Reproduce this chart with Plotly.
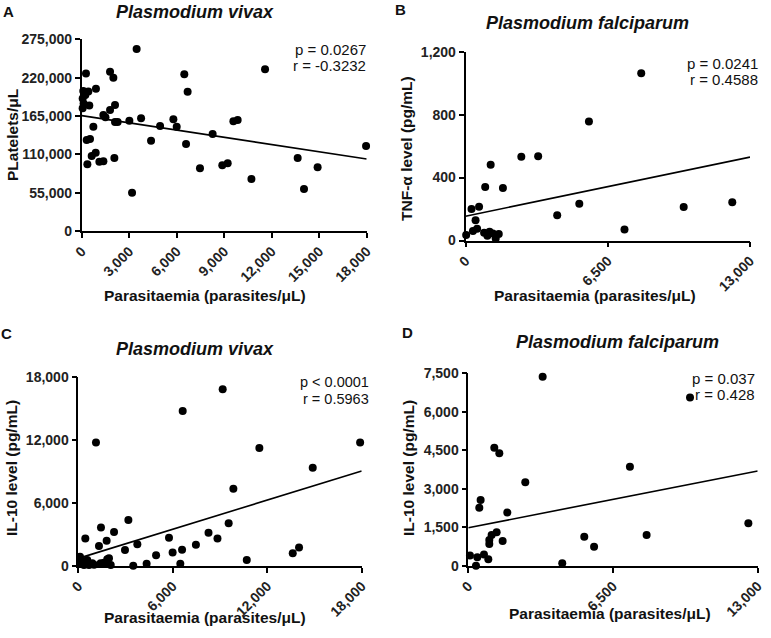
import plotly.graph_objects as go

W, H = 771, 638

# ---------------- Data ----------------
# Panel A: P. vivax parasitaemia vs platelets
a_x = [100, 420, 230, 60, 120, 480, 60, 270, 900, 1790, 2000, 3470, 2105, 1790, 1370, 1500,
       2105, 2270, 3010, 3750, 5790, 6000, 4950, 4380, 6590, 8270, 9580, 9850, 737, 316, 526,
       630, 884, 1116, 1370, 2063, 358, 3180, 7470, 8880, 9220, 10720, 13640, 14040, 14900,
       17960, 6480, 6690, 11580]
a_y = [201000, 200000, 195000, 190000, 183000, 180000, 176000, 226000, 204000, 228600, 220000,
       261000, 180800, 173600, 166400, 163000, 156400, 156400, 158300, 161600, 160200, 149700,
       150600, 129600, 124800, 139200, 157300, 159300, 149700, 130600, 132000, 107600, 112400,
       99500, 100000, 104700, 95600, 55000, 89900, 94200, 97100, 74600, 104700, 60300, 91300,
       122000, 224800, 199900, 231900]
a_fit_x = [0, 18000]
a_fit_y = [165500, 103300]

# Panel B: P. falciparum parasitaemia vs TNF-alpha
b_x = [30, 340, 530, 460, 275, 620, 900, 1710, 1150, 2550, 3320, 4190, 5200, 5640, 7265, 8030,
       9970, 12190, 850, 1000, 1100, 1250, 1380, 1520]
b_y = [35, 60, 75, 128, 200, 215, 340, 333, 482, 532, 535, 161, 234, 756, 70, 1063, 213, 243,
       50, 30, 55, 45, 13, 42]
b_fit_x = [0, 13000]
b_fit_y = [154, 530]

# Panel C: P. vivax parasitaemia vs IL-10
c_x = [9170, 6630, 1122, 11500, 17900, 14890, 9850, 9550, 3180, 1440, 2270, 1800, 445, 1313,
       3750, 5760, 2965, 6590, 5990, 7470, 8270, 8840, 4940, 10700, 13620, 14020, 6480, 4340,
       3490, 110, 150, 570, 680, 890, 1420, 1630, 1950, 2060, 360, 1840, 1860, 1000, 300]
c_y = [16850, 14780, 11760, 11250, 11760, 9370, 7360, 4050, 4360, 3660, 3220, 2390, 2610, 1880,
       2040, 2680, 1500, 1530, 1270, 2010, 3150, 2610, 990, 540, 1180, 1750, 190, 190, 0, 860,
       230, 545, 67, 230, 230, 290, 710, 70, 67, 605, 220, 90, 400]
c_fit_x = [0, 18000]
c_fit_y = [700, 9050]

# Panel D: P. falciparum parasitaemia vs IL-10
d_x = [3340, 9960, 1168, 1393, 2560, 7260, 554, 494, 1752, 12580, 8010, 5210, 5650, 4220,
       1273, 1048, 943, 943, 1543, 75, 404, 345, 704, 899]
d_y = [7370, 6560, 4600, 4380, 3250, 3860, 2560, 2260, 2070, 1650, 1200, 1130, 740, 91, 1300,
       1200, 1000, 845, 960, 400, 325, 0, 440, 247]
d_fit_x = [0, 13000]
d_fit_y = [1480, 3690]

# tick labels
a_xticks = [0, 3000, 6000, 9000, 12000, 15000, 18000]
a_xlabels = ["0", "3,000", "6,000", "9,000", "12,000", "15,000", "18,000"]
a_yticks = [0, 55000, 110000, 165000, 220000, 275000]
a_ylabels = ["0", "55,000", "110,000", "165,000", "220,000", "275,000"]
b_xticks = [0, 6500, 13000]
b_xlabels = ["0", "6,500", "13,000"]
b_yticks = [0, 400, 800, 1200]
b_ylabels = ["0", "400", "800", "1,200"]
c_xticks = [0, 6000, 12000, 18000]
c_xlabels = ["0", "6,000", "12,000", "18,000"]
c_yticks = [0, 6000, 12000, 18000]
c_ylabels = ["0", "6,000", "12,000", "18,000"]
d_xticks = [0, 6500, 13000]
d_xlabels = ["0", "6,500", "13,000"]
d_yticks = [0, 1500, 3000, 4500, 6000, 7500]
d_ylabels = ["0", "1,500", "3,000", "4,500", "6,000", "7,500"]

FONT = "Liberation Sans, Arial, sans-serif"

panels = [
    dict(key="", x=a_x, y=a_y, fx=a_fit_x, fy=a_fit_y, xt=a_xticks, xl=a_xlabels, yt=a_yticks, yl=a_ylabels,
         xr=[0, 18000], yr=[0, 275000], px=(81.7, 366.7), py=(39.3, 231.0)),
    dict(key="2", x=b_x, y=b_y, fx=b_fit_x, fy=b_fit_y, xt=b_xticks, xl=b_xlabels, yt=b_yticks, yl=b_ylabels,
         xr=[0, 13000], yr=[0, 1200], px=(465.5, 750.0), py=(51.7, 240.5)),
    dict(key="3", x=c_x, y=c_y, fx=c_fit_x, fy=c_fit_y, xt=c_xticks, xl=c_xlabels, yt=c_yticks, yl=c_ylabels,
         xr=[0, 18000], yr=[0, 18000], px=(78.3, 361.7), py=(377.3, 565.7)),
    dict(key="4", x=d_x, y=d_y, fx=d_fit_x, fy=d_fit_y, xt=d_xticks, xl=d_xlabels, yt=d_yticks, yl=d_ylabels,
         xr=[0, 13000], yr=[0, 7500], px=(468.3, 757.7), py=(373.3, 565.7)),
]

fig = go.Figure()
layout = {}
for p in panels:
    k = p["key"]
    fig.add_trace(go.Scatter(x=p["x"], y=p["y"], mode="markers", xaxis="x" + k, yaxis="y" + k,
                             marker=dict(color="black", size=8), cliponaxis=False, showlegend=False,
                             hoverinfo="x+y"))
    fig.add_trace(go.Scatter(x=p["fx"], y=p["fy"], mode="lines", xaxis="x" + k, yaxis="y" + k,
                             line=dict(color="black", width=1.6), cliponaxis=False, showlegend=False))
    common = dict(showline=True, linecolor="black", linewidth=1.6, ticks="outside", ticklen=5,
                  tickwidth=1.6, tickcolor="black", showgrid=False, zeroline=False, automargin=False,
                  tickfont=dict(family=FONT, size=14, color="#222", weight="bold"), tickmode="array")
    layout["xaxis" + k] = dict(common, domain=[p["px"][0] / W, p["px"][1] / W], range=p["xr"],
                               tickvals=p["xt"], ticktext=p["xl"], tickangle=-45,
                               anchor="y" + k)
    layout["yaxis" + k] = dict(common, domain=[1 - p["py"][1] / H, 1 - p["py"][0] / H], range=p["yr"],
                               tickvals=p["yt"], ticktext=p["yl"], anchor="x" + k)

fig.update_layout(**layout)


def ann(text, x, y, size, bold=False, italic=False, angle=0, xanchor="center", color="#111"):
    t = text
    if bold:
        t = "<b>" + t + "</b>"
    if italic:
        t = "<i>" + t + "</i>"
    return dict(text=t, x=x / W, y=1 - y / H, xref="paper", yref="paper", showarrow=False,
                xanchor=xanchor, yanchor="middle", textangle=angle,
                font=dict(family=FONT, size=size, color=color))


xt = "Parasitaemia (parasites/μL)"
anns = [
    ann("A", 8, 12, 15, bold=True),
    ann("Plasmodium vivax", 195, 12, 18, bold=True, italic=True),
    ann("PLatelets/μL", 12, 135, 15.5, bold=True, angle=-90),
    ann(xt, 205, 295, 15.5, bold=True),
    ann("p = 0.0267", 368, 49, 15, xanchor="right"),
    ann("r = -0.3232", 368, 65.5, 15, xanchor="right"),

    ann("B", 400, 10, 15, bold=True),
    ann("Plasmodium falciparum", 587, 23, 18, bold=True, italic=True),
    ann("TNF-α level (pg/mL)", 406, 149, 15.5, bold=True, angle=-90),
    ann(xt, 595, 295, 15.5, bold=True),
    ann("p = 0.0241", 760, 63, 15, xanchor="right"),
    ann("r = 0.4588", 760, 80, 15, xanchor="right"),

    ann("C", 6, 333, 15, bold=True),
    ann("Plasmodium vivax", 195, 349, 18, bold=True, italic=True),
    ann("IL-10 level (pg/mL)", 11, 468, 15.5, bold=True, angle=-90),
    ann(xt, 205, 617, 15.5, bold=True),
    ann("p < 0.0001", 371, 382, 14.5, xanchor="right"),
    ann("r = 0.5963", 371, 399, 14.5, xanchor="right"),

    ann("D", 407, 332, 15, bold=True),
    ann("Plasmodium falciparum", 617, 342, 18, bold=True, italic=True),
    ann("IL-10 level (pg/mL)", 408, 468, 15.5, bold=True, angle=-90),
    ann(xt, 610, 613, 15.5, bold=True),
    ann("p = 0.037", 757, 378, 15, xanchor="right"),
    ann("r = 0.428", 757, 394, 15, xanchor="right"),
]

fig.update_layout(width=W, height=H, margin=dict(l=0, r=0, t=0, b=0), paper_bgcolor="white",
                  plot_bgcolor="white", annotations=anns, showlegend=False,
                  font=dict(family=FONT, color="#111"))

fig.write_html("out.html", config={"displayModeBar": False},
               post_script="document.body.style.margin='0';document.body.style.overflow='hidden';")
